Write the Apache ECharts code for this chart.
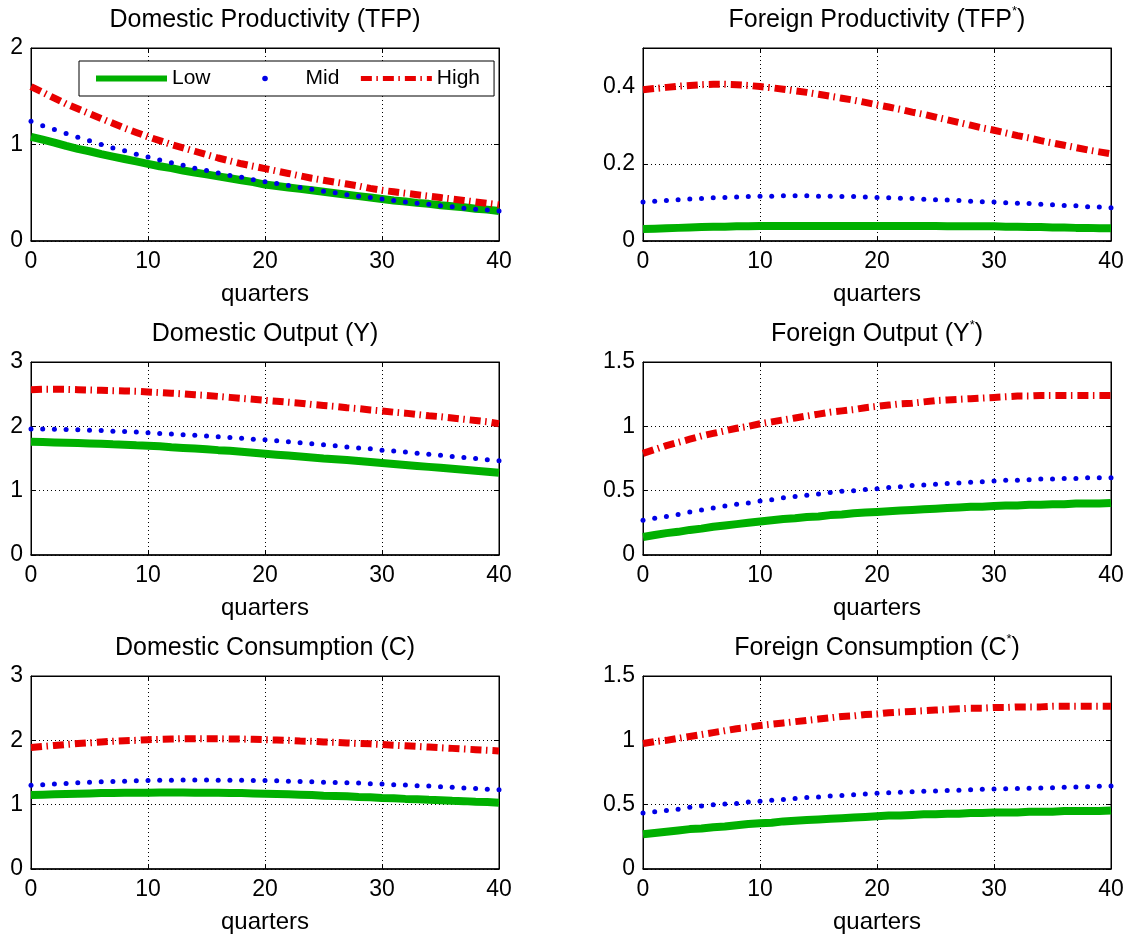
<!DOCTYPE html>
<html><head><meta charset="utf-8">
<script src="https://cdn.jsdelivr.net/npm/echarts@6/dist/echarts.min.js"></script>
<style>html,body{margin:0;padding:0;background:#fff}#c{width:1137px;height:939px}</style>
</head><body><div id="c"></div>
<script>
const quarters = [0,1,2,3,4,5,6,7,8,9,10,11,12,13,14,15,16,17,18,19,20,21,22,23,24,25,26,27,28,29,30,31,32,33,34,35,36,37,38,39,40];
const seriesNames = ['Low', 'Mid', 'High'];
const panelTitles = ['Domestic Productivity (TFP)', 'Foreign Productivity (TFP{s|*})', 'Domestic Output (Y)', 'Foreign Output (Y{s|*})', 'Domestic Consumption (C)', 'Foreign Consumption (C{s|*})'];
const xAxisName = 'quarters';
const xTicks = { min: 0, max: 40, interval: 10 };
const yMax = [2, 0.5, 3, 1.5, 3, 1.5];
const yInterval = [1, 0.2, 1, 0.5, 1, 0.5];

// Domestic productivity
const tfpLow = [1.08,1.05,1.02,0.985,0.955,0.93,0.90,0.875,0.85,0.825,
  0.80,0.775,0.755,0.73,0.71,0.69,0.67,0.65,0.63,0.61,
  0.585,0.57,0.555,0.54,0.525,0.51,0.495,0.48,0.465,0.45,
  0.435,0.42,0.41,0.395,0.385,0.37,0.36,0.35,0.335,0.325,
  0.31];
const tfpMid = [1.24,1.195,1.155,1.115,1.075,1.04,1.00,0.965,0.935,0.90,
  0.87,0.84,0.81,0.785,0.755,0.73,0.705,0.68,0.66,0.635,
  0.615,0.595,0.575,0.555,0.535,0.515,0.50,0.48,0.465,0.45,
  0.435,0.42,0.405,0.39,0.38,0.365,0.355,0.34,0.33,0.32,
  0.31];
const tfpHigh = [1.60,1.54,1.48,1.42,1.37,1.32,1.27,1.22,1.17,1.125,
  1.08,1.04,1.00,0.965,0.93,0.895,0.86,0.83,0.80,0.775,
  0.75,0.725,0.70,0.675,0.65,0.63,0.61,0.59,0.57,0.545,
  0.525,0.51,0.495,0.48,0.465,0.45,0.435,0.42,0.405,0.39,
  0.375];
// Foreign productivity
const tfpfLow = [0.031,0.032,0.033,0.034,0.035,0.036,0.037,0.037,0.038,0.038,
  0.039,0.039,0.039,0.039,0.039,0.039,0.039,0.039,0.039,0.039,
  0.039,0.039,0.039,0.039,0.039,0.039,0.038,0.038,0.038,0.038,
  0.038,0.037,0.037,0.036,0.036,0.035,0.035,0.034,0.034,0.033,
  0.033];
const tfpfMid = [0.101,0.103,0.105,0.107,0.109,0.110,0.112,0.113,0.114,0.115,
  0.116,0.116,0.117,0.117,0.117,0.116,0.116,0.115,0.115,0.114,
  0.113,0.112,0.111,0.110,0.108,0.107,0.106,0.105,0.103,0.102,
  0.101,0.099,0.098,0.097,0.095,0.094,0.092,0.091,0.089,0.088,
  0.086];
const tfpfHigh = [0.392,0.395,0.398,0.401,0.403,0.405,0.406,0.406,0.405,0.403,
  0.400,0.397,0.393,0.389,0.385,0.380,0.375,0.370,0.365,0.359,
  0.353,0.347,0.341,0.334,0.328,0.321,0.314,0.307,0.300,0.293,
  0.287,0.280,0.273,0.267,0.260,0.254,0.248,0.242,0.236,0.231,
  0.226];
// Domestic output
const yLow = [1.76,1.755,1.75,1.745,1.74,1.735,1.73,1.72,1.715,1.705,
  1.70,1.69,1.675,1.665,1.655,1.645,1.63,1.62,1.605,1.59,
  1.575,1.56,1.545,1.53,1.515,1.50,1.49,1.475,1.46,1.445,
  1.43,1.415,1.40,1.385,1.37,1.355,1.34,1.325,1.31,1.295,
  1.28];
const yMid = [1.96,1.96,1.955,1.95,1.945,1.94,1.935,1.925,1.92,1.91,
  1.90,1.89,1.88,1.87,1.86,1.85,1.84,1.825,1.815,1.80,
  1.79,1.775,1.76,1.745,1.73,1.715,1.70,1.68,1.665,1.65,
  1.63,1.615,1.60,1.58,1.565,1.55,1.53,1.515,1.50,1.48,
  1.465];
const yHigh = [2.57,2.575,2.575,2.575,2.57,2.565,2.56,2.555,2.55,2.545,
  2.535,2.525,2.515,2.505,2.49,2.48,2.465,2.45,2.435,2.42,
  2.405,2.39,2.375,2.36,2.34,2.325,2.31,2.29,2.275,2.255,
  2.24,2.22,2.205,2.185,2.165,2.15,2.13,2.11,2.09,2.07,
  2.04];
// Foreign output
const yfLow = [0.14,0.155,0.17,0.18,0.195,0.205,0.22,0.23,0.24,0.25,
  0.26,0.27,0.28,0.285,0.295,0.30,0.31,0.315,0.325,0.33,
  0.335,0.34,0.345,0.35,0.355,0.36,0.365,0.37,0.375,0.375,
  0.38,0.385,0.385,0.39,0.39,0.395,0.395,0.40,0.40,0.40,
  0.405];
const yfMid = [0.27,0.285,0.30,0.315,0.335,0.35,0.365,0.38,0.395,0.405,
  0.42,0.43,0.445,0.455,0.465,0.475,0.485,0.495,0.50,0.51,
  0.515,0.525,0.53,0.54,0.545,0.55,0.555,0.56,0.565,0.57,
  0.575,0.58,0.58,0.585,0.59,0.59,0.595,0.595,0.60,0.60,
  0.60];
const yfHigh = [0.79,0.82,0.85,0.875,0.90,0.925,0.945,0.965,0.985,1.00,
  1.02,1.035,1.05,1.065,1.08,1.095,1.11,1.12,1.13,1.145,
  1.155,1.165,1.175,1.18,1.19,1.20,1.205,1.21,1.215,1.22,
  1.225,1.23,1.235,1.235,1.24,1.24,1.24,1.24,1.24,1.24,
  1.24];
// Domestic consumption
const cLow = [1.15,1.155,1.16,1.165,1.17,1.175,1.18,1.18,1.185,1.185,
  1.185,1.19,1.19,1.19,1.185,1.185,1.185,1.18,1.18,1.175,
  1.17,1.165,1.16,1.155,1.15,1.14,1.135,1.13,1.12,1.115,
  1.105,1.10,1.09,1.085,1.075,1.07,1.06,1.055,1.045,1.04,
  1.03];
const cMid = [1.30,1.31,1.32,1.33,1.34,1.35,1.355,1.36,1.365,1.37,
  1.375,1.38,1.38,1.385,1.385,1.385,1.38,1.38,1.38,1.375,
  1.375,1.37,1.365,1.36,1.355,1.35,1.345,1.34,1.335,1.325,
  1.32,1.31,1.305,1.295,1.29,1.28,1.27,1.26,1.25,1.24,
  1.23];
const cHigh = [1.89,1.905,1.92,1.935,1.95,1.96,1.975,1.985,1.995,2.00,
  2.01,2.015,2.02,2.025,2.025,2.025,2.025,2.02,2.02,2.015,
  2.01,2.005,2.00,1.99,1.985,1.975,1.97,1.96,1.95,1.945,
  1.935,1.925,1.915,1.905,1.895,1.885,1.875,1.865,1.855,1.845,
  1.835];
// Foreign consumption
const cfLow = [0.27,0.28,0.29,0.30,0.31,0.315,0.325,0.33,0.34,0.35,
  0.355,0.36,0.37,0.375,0.38,0.385,0.39,0.395,0.40,0.405,
  0.41,0.415,0.415,0.42,0.425,0.425,0.43,0.43,0.435,0.435,
  0.44,0.44,0.44,0.445,0.445,0.445,0.45,0.45,0.45,0.45,
  0.455];
const cfMid = [0.435,0.445,0.455,0.465,0.48,0.49,0.50,0.505,0.51,0.52,
  0.527,0.535,0.54,0.548,0.555,0.56,0.567,0.572,0.578,0.583,
  0.588,0.593,0.597,0.60,0.604,0.607,0.61,0.613,0.616,0.619,
  0.622,0.624,0.626,0.628,0.63,0.632,0.635,0.637,0.64,0.643,
  0.646];
const cfHigh = [0.975,0.99,1.00,1.015,1.03,1.045,1.06,1.075,1.09,1.10,
  1.115,1.125,1.135,1.145,1.155,1.165,1.175,1.185,1.19,1.20,
  1.205,1.215,1.22,1.225,1.23,1.235,1.24,1.245,1.25,1.25,
  1.255,1.255,1.26,1.26,1.26,1.265,1.265,1.265,1.265,1.265,
  1.265];

const panelData = [
  [tfpLow, tfpMid, tfpHigh],
  [tfpfLow, tfpfMid, tfpfHigh],
  [yLow, yMid, yHigh],
  [yfLow, yfMid, yfHigh],
  [cLow, cMid, cHigh],
  [cfLow, cfMid, cfHigh]
];

const FONT = "'Liberation Sans', Arial, Helvetica, sans-serif";
const GREEN = '#00b000', BLUE = '#0000e6', RED = '#e80000';
const colLeft = [31, 643], rowTop = [48, 362, 676], W = 468, H = 193;

const grids = [], xAxes = [], yAxes = [], titles = [], series = [];
panelData.forEach((arrs, i) => {
  const col = i % 2, row = Math.floor(i / 2);
  grids.push({ left: colLeft[col], top: rowTop[row], width: W, height: H, show: true,
    borderColor: '#000', borderWidth: 1, backgroundColor: '#fff' });
  const tick = { show: true, inside: true, length: 5, lineStyle: { color: '#000', width: 1 } };
  const split = { show: true, lineStyle: { color: '#000', type: [1, 3], width: 1 } };
  xAxes.push({ type: 'value', gridIndex: i, position: 'bottom', min: xTicks.min, max: xTicks.max, interval: xTicks.interval,
    axisLine: { show: true, onZero: false, lineStyle: { color: '#000', width: 1.5 } },
    axisTick: tick, splitLine: split,
    axisLabel: { fontSize: 23, color: '#000', margin: 9, fontFamily: FONT },
    name: xAxisName, nameLocation: 'middle', nameGap: 41,
    nameTextStyle: { fontSize: 24, color: '#000', fontFamily: FONT } });
  xAxes.push({ type: 'value', gridIndex: i, position: 'top', min: xTicks.min, max: xTicks.max, interval: xTicks.interval,
    axisLine: { show: true, onZero: false, lineStyle: { color: '#000', width: 1 } },
    axisTick: tick, splitLine: { show: false }, axisLabel: { show: false } });
  yAxes.push({ type: 'value', gridIndex: i, position: 'left', min: 0, max: yMax[i], interval: yInterval[i],
    axisLine: { show: true, onZero: false, lineStyle: { color: '#000', width: 1 } },
    axisTick: tick, splitLine: split,
    axisLabel: { fontSize: 23, color: '#000', margin: 8, fontFamily: FONT, showMaxLabel: i !== 1 } });
  yAxes.push({ type: 'value', gridIndex: i, position: 'right', min: 0, max: yMax[i], interval: yInterval[i],
    axisLine: { show: true, onZero: false, lineStyle: { color: '#000', width: 1 } },
    axisTick: tick, splitLine: { show: false }, axisLabel: { show: false } });
  titles.push({ text: panelTitles[i], left: colLeft[col] + W / 2, top: rowTop[row] - 28 - 15, textAlign: 'center', padding: 0,
    textStyle: { fontSize: 25, fontWeight: 'normal', color: '#000', fontFamily: FONT, lineHeight: 30,
      rich: { s: { fontSize: 13, color: '#000', fontFamily: FONT, lineHeight: 22, verticalAlign: 'top' } } } });
  const pts = a => quarters.map((q, j) => [q, a[j]]);
  series.push({ name: seriesNames[0], type: 'line', xAxisIndex: 2 * i, yAxisIndex: 2 * i, data: pts(arrs[0]),
    symbol: 'none', lineStyle: { color: GREEN, width: 8, cap: 'butt' }, itemStyle: { color: GREEN }, animation: false, z: 3 });
  series.push({ name: seriesNames[1], type: 'line', xAxisIndex: 2 * i, yAxisIndex: 2 * i, data: pts(arrs[1]),
    symbol: 'circle', symbolSize: 5, showSymbol: true, lineStyle: { width: 0, opacity: 0 }, itemStyle: { color: BLUE },
    clip: false, animation: false, z: 4 });
  series.push({ name: seriesNames[2], type: 'line', xAxisIndex: 2 * i, yAxisIndex: 2 * i, data: pts(arrs[2]),
    symbol: 'none', lineStyle: { color: RED, width: 7, type: [11, 4.5, 1.5, 5], cap: 'butt' }, itemStyle: { color: RED },
    animation: false, z: 5 });
});

const chart = echarts.init(document.getElementById('c'), null, { renderer: 'canvas' });
chart.setOption({
  backgroundColor: '#fff',
  animation: false,
  title: titles,
  grid: grids,
  xAxis: xAxes,
  yAxis: yAxes,
  legend: {
    left: 79, top: 61, orient: 'horizontal', padding: [7, 14, 7, 14], itemGap: 19, itemWidth: 71, itemHeight: 7,
    borderColor: '#000', borderWidth: 1, backgroundColor: '#fff', selectedMode: false, z: 10,
    textStyle: { fontSize: 21, color: '#000', fontFamily: FONT },
    data: [
      { name: seriesNames[0], itemStyle: { opacity: 0 }, lineStyle: { width: 6 } },
      { name: seriesNames[1] },
      { name: seriesNames[2], itemStyle: { opacity: 0 }, lineStyle: { width: 5 } }
    ]
  },
  series: series
});
</script>
</body></html>
